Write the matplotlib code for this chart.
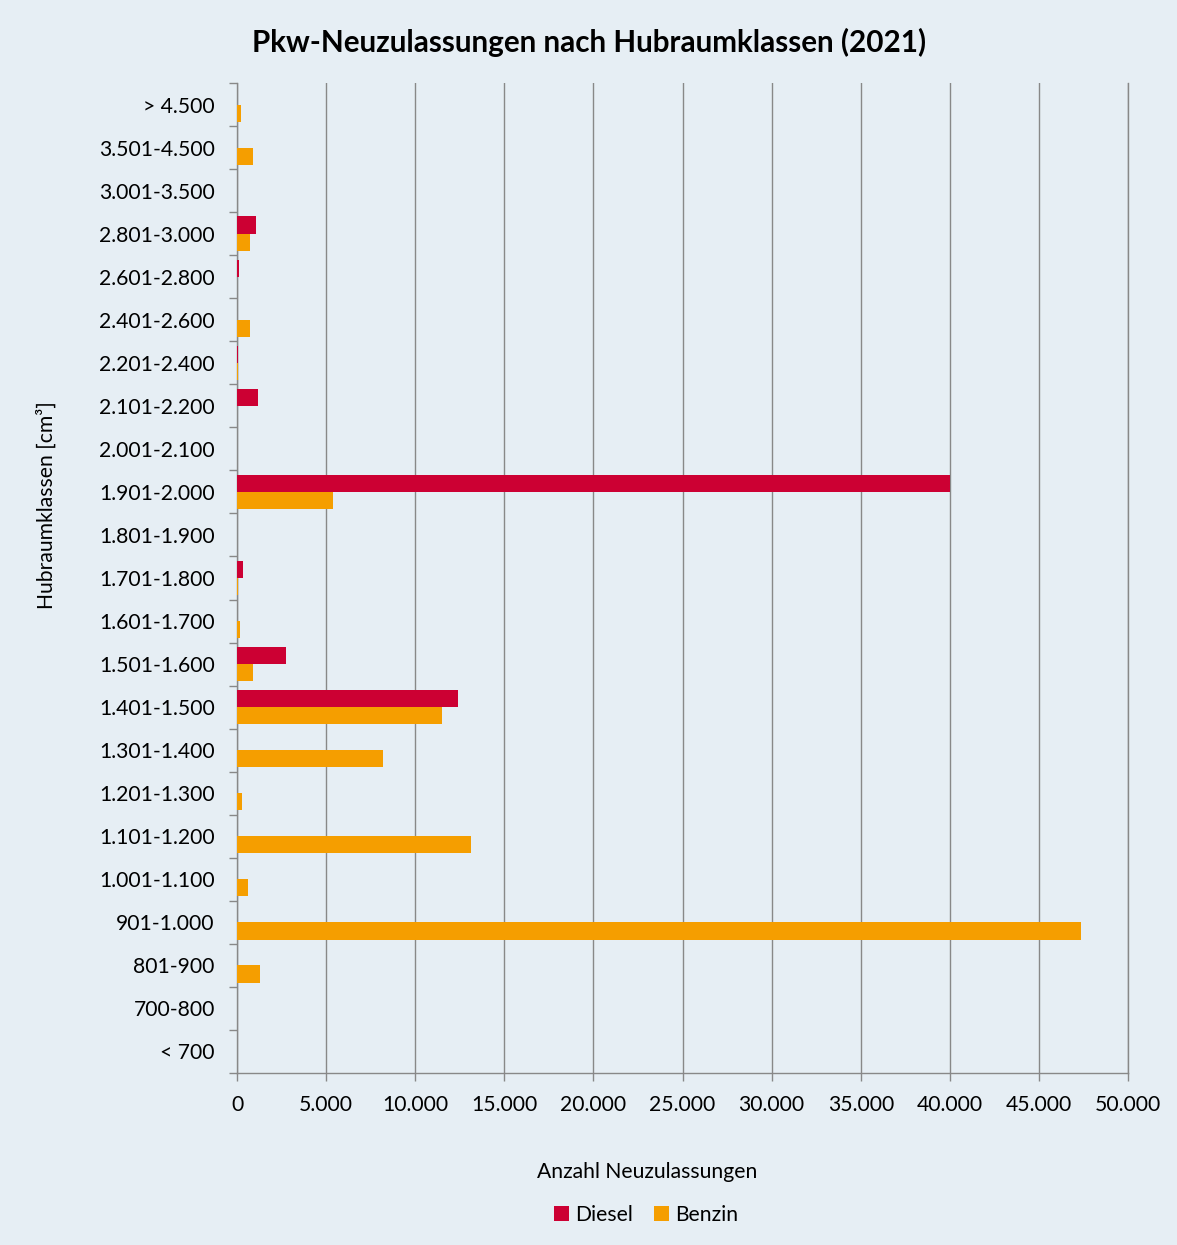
import numpy as np
import matplotlib
matplotlib.use("Agg")
import matplotlib.pyplot as plt
from matplotlib.ticker import FuncFormatter, FixedLocator

# categories top to bottom
klassen = ['> 4.500', '3.501-4.500', '3.001-3.500', '2.801-3.000', '2.601-2.800',
           '2.401-2.600', '2.201-2.400', '2.101-2.200', '2.001-2.100', '1.901-2.000',
           '1.801-1.900', '1.701-1.800', '1.601-1.700', '1.501-1.600', '1.401-1.500',
           '1.301-1.400', '1.201-1.300', '1.101-1.200', '1.001-1.100', '901-1.000',
           '801-900', '700-800', '< 700']
diesel = [0, 0, 0, 1090, 100, 0, 60, 1160, 0, 40000,
          0, 360, 0, 2720, 12400, 0, 20, 0, 0, 0,
          0, 0, 0]
benzin = [200, 900, 0, 750, 0, 700, 80, 0, 0, 5410,
          0, 60, 150, 920, 11500, 8200, 300, 13130, 590, 47360,
          1260, 0, 0]

bg = '#e6eef4'
c_diesel = '#cc0033'
c_benzin = '#f59e00'
grey = '#888888'
fs = 15.2
plt.rcParams['font.family'] = ['Lato', 'DejaVu Sans']

fig = plt.figure(figsize=(11.77, 12.45), dpi=100, facecolor=bg)
ax = fig.add_axes([0.2014, 0.1382, 0.757, 0.7951], facecolor=bg)

y = np.arange(len(klassen))
ax.barh(y - 0.2, diesel, height=0.4, color=c_diesel, label='Diesel', zorder=3)
ax.barh(y + 0.2, benzin, height=0.4, color=c_benzin, label='Benzin', zorder=3)

ax.set_xlim(0, 50000)
ax.set_ylim(len(klassen) - 0.5, -0.5)
ax.set_xticks(np.arange(0, 50001, 5000))
ax.xaxis.set_major_formatter(FuncFormatter(lambda v, p: f'{int(v):,}'.replace(',', '.')))
ax.set_yticks(y)
ax.set_yticklabels(klassen)
ax.yaxis.set_minor_locator(FixedLocator(np.arange(-0.5, len(klassen), 1)))
ax.tick_params(axis='y', which='major', length=0, pad=16, labelsize=fs)
ax.tick_params(axis='y', which='minor', length=6, color=grey, width=1)
ax.tick_params(axis='x', length=6, color=grey, width=1, pad=10, labelsize=fs)
ax.grid(axis='x', color=grey, linewidth=1, zorder=0)
ax.axvline(50000, color=grey, linewidth=1, clip_on=False, zorder=0)

for s in ['top', 'right']:
    ax.spines[s].set_visible(False)
for s in ['left', 'bottom']:
    ax.spines[s].set_color(grey)
    ax.spines[s].set_linewidth(1)

fig.text(647 / 1177, 1 - 1172 / 1245, 'Anzahl Neuzulassungen', fontsize=fs,
         ha='center', va='center')
fig.text(47 / 1177, 1 - 505 / 1245, 'Hubraumklassen [cm³]', fontsize=fs,
         ha='center', va='center', rotation=90)
fig.text(589 / 1177, 1 - 42 / 1245, 'Pkw-Neuzulassungen nach Hubraumklassen (2021)',
         fontsize=21.3, fontweight='bold', ha='center', va='center')

fig.legend(loc='center', bbox_to_anchor=(646 / 1177, 1 - 1215 / 1245), ncol=2,
           frameon=False, fontsize=fs, handlelength=0.7, handleheight=0.7,
           handletextpad=0.3, columnspacing=1.0)

fig.savefig('out.png', dpi=100, facecolor=bg)
